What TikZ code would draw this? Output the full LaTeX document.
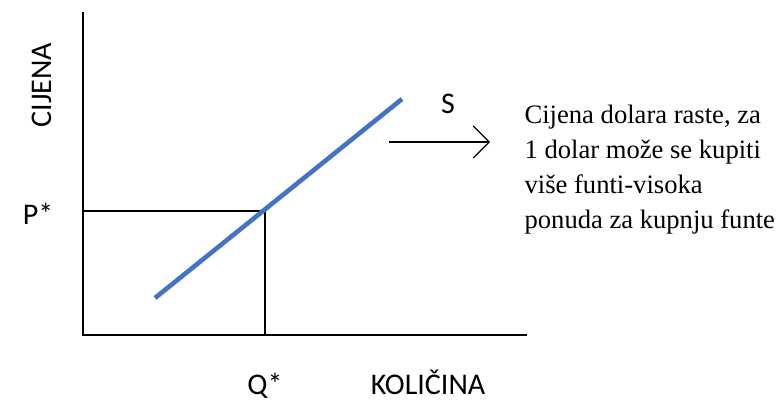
\documentclass[tikz,border=0pt]{standalone}
\usepackage{fontspec}
\setmainfont{Liberation Serif}
\newfontfamily\timesfont{Liberation Serif}
\newfontfamily\calibri{Carlito}
\usetikzlibrary{positioning}
\usetikzlibrary{arrows.meta}
\definecolor{supplyblue}{RGB}{68,114,196}

\begin{document}
\begin{tikzpicture}[
        x = 0.5pt, y = -0.5pt, % pixel grid
        line width = 0.6pt, % line style
        lbl/.style = {font=\calibri\fontsize{15}{18}\selectfont, inner sep=0pt},
        note/.style = {font=\timesfont\fontsize{13.3}{17.5}\selectfont, align=left, inner sep=0pt}
        ]

  \useasboundingbox (0,0) rectangle (783,401);

  \coordinate (top) at (83,12);
  \coordinate (origin) at (83,335);
  \coordinate (right) at (527,335);
  \coordinate (pstar) at (83,211);
  \coordinate (eq) at (265,211);
  \coordinate (qstar) at (265,335);
  \coordinate (slow) at (155,298);
  \coordinate (shigh) at (402,99);
  \coordinate (arrstart) at (389,142);
  \coordinate (arrend) at (490,142);

  \node[lbl, rotate=90] (cijena) at (42,85) {CIJENA};
  \node[lbl] (plabel) at (38,214) {P*};
  \node[lbl] (qlabel) at (265,386) {Q*};
  \node[lbl] (kolicina) at (428,382) {KOLIČINA};
  \node[lbl] (slabel) at (448,104) {S};
  \node[note, anchor=north west] (txt) at (524,104) {Cijena dolara raste, za\\1 dolar može se kupiti\\više funti-visoka\\ponuda za kupnju funte};

  % axes
  \draw (top) -- (origin) -- (right);
  \draw (pstar) -- (eq) -- (qstar);

  % supply curve
  \draw[supplyblue, line width=2.3pt] (slow) -- (shigh);

  \draw[-{Straight Barb[length=5pt, width=10pt, scale=1.6]}] (arrstart) -- (arrend);

\end{tikzpicture}
\end{document}
